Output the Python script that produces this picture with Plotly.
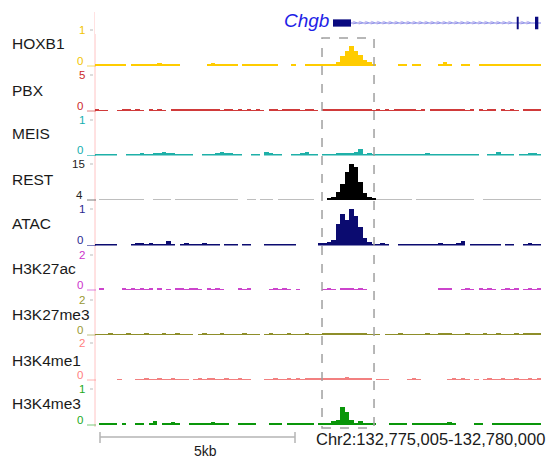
import numpy as np
import plotly.graph_objects as go

W, H = 546, 459
START = 132775000
END = 132780000
BIN = 50
CHROM_LABEL = "Chr2:132,775,005-132,780,000"
SCALE_LABEL = "5kb"

track_names = ["HOXB1", "PBX", "MEIS", "REST", "ATAC", "H3K27ac", "H3K27me3", "H3K4me1", "H3K4me3"]
track_min = [0, 0, 0, 4, 0, 0, 0, 0, 0]
track_max = [1, 5, 1, 15, 1, 2, 2, 2, 1]

hoxb1 = [0.03, 0.03, 0.06, 0.04, 0.03, 0.03, 0.04, 0, 0.05, 0.03,
         0.05, 0.04, 0.03, 0.06, 0.07, 0.04, 0.06, 0.04, 0.03, 0,
         0, 0, 0, 0, 0, 0.04, 0.07, 0.05, 0.04, 0.03,
         0.04, 0.03, 0, 0.05, 0.04, 0.03, 0.05, 0.03, 0.04, 0.05,
         0.03, 0, 0, 0, 0.06, 0, 0, 0.03, 0.04, 0.03,
         0.04, 0.04, 0.05, 0.06, 0.12, 0.28, 0.42, 0.55, 0.42, 0.3,
         0.16, 0.12, 0.05, 0, 0, 0, 0, 0, 0.03, 0.04,
         0, 0.03, 0.04, 0, 0, 0, 0, 0.05, 0.12, 0.06,
         0, 0, 0.04, 0.03, 0, 0, 0.03, 0.04, 0.05, 0.04,
         0.06, 0.04, 0.05, 0.03, 0.06, 0.04, 0.03, 0.05, 0.04, 0.05]

pbx = [0.15, 0.1, 0.1, 0, 0, 0.1, 0.15, 0.15, 0.1, 0.15,
       0.1, 0, 0.15, 0.1, 0.15, 0.1, 0, 0.15, 0.2, 0.15,
       0.2, 0.15, 0.15, 0.2, 0.15, 0.25, 0.2, 0.15, 0.1, 0.15,
       0.15, 0.1, 0.15, 0.1, 0.15, 0.1, 0.15, 0.1, 0, 0.15,
       0.15, 0.1, 0.15, 0.15, 0.2, 0.15, 0.1, 0.15, 0.15, 0.1,
       0, 0.15, 0.15, 0.2, 0.15, 0.2, 0.2, 0.25, 0.3, 0.2,
       0.15, 0.15, 0.1, 0.15, 0.1, 0.15, 0.1, 0.15, 0.15, 0.2,
       0.15, 0.15, 0.1, 0.15, 0, 0.15, 0.15, 0.2, 0.15, 0.15,
       0.2, 0.15, 0.15, 0.1, 0.15, 0, 0.15, 0.1, 0.15, 0.15,
       0, 0.15, 0.1, 0.15, 0.1, 0, 0.15, 0.15, 0.2, 0.15]

meis = [0.04, 0.03, 0.04, 0.03, 0.04, 0, 0, 0.03, 0.04, 0.05,
        0.06, 0.04, 0.03, 0.06, 0.08, 0.1, 0.07, 0.08, 0.05, 0.04,
        0.04, 0.03, 0, 0, 0.03, 0.04, 0.05, 0.08, 0.1, 0.07,
        0.06, 0.04, 0.03, 0, 0, 0.04, 0.03, 0, 0.1, 0.06,
        0.04, 0.03, 0, 0, 0.03, 0.04, 0.06, 0.09, 0.05, 0.03,
        0, 0.04, 0.03, 0.05, 0.06, 0.06, 0.07, 0.08, 0.1, 0.17,
        0.05, 0.06, 0.04, 0.04, 0.03, 0.04, 0.03, 0.04, 0.05, 0.03,
        0.03, 0.04, 0.03, 0.04, 0.06, 0.05, 0.04, 0.05, 0.04, 0.03,
        0.05, 0.04, 0.03, 0.04, 0.05, 0.03, 0, 0, 0.03, 0.04,
        0.1, 0.05, 0.03, 0.03, 0, 0.03, 0.04, 0.06, 0.07, 0.04]

rest = [4, 4.3, 4.3, 4.3, 4.3, 4.3, 4.3, 4.3, 4.3, 4.3,
        4.3, 4, 4, 4.3, 4.3, 4.3, 4.3, 4, 4.3, 4.3,
        4.3, 4.3, 4.3, 4.3, 4.3, 4.3, 4.3, 4.3, 4.3, 4.3,
        4.3, 4.3, 4, 4, 4.3, 4.3, 4, 4.3, 4.3, 4.3,
        4, 4.3, 4.3, 4.3, 4.3, 4.3, 4.3, 4.3, 4.3, 4,
        4, 4, 4.4, 4.8, 6.5, 9.0, 12.5, 15, 14.2, 9.5,
        6.0, 4.8, 4.4, 4.3, 4.3, 4.3, 4.3, 4.3, 4.3, 4.3,
        4.3, 4, 4.3, 4.3, 4.3, 4.3, 4.3, 4.3, 4.3, 4.3,
        4.3, 4.3, 4.3, 4.3, 4.3, 4, 4, 4.3, 4.3, 4.3,
        4.3, 4.3, 4.3, 4.3, 4.3, 4.3, 4.3, 4.3, 4.3, 4.3]

atac = [0.05, 0.04, 0.05, 0.04, 0.05, 0, 0, 0, 0.05, 0.06,
        0.06, 0.05, 0.06, 0.05, 0.04, 0.05, 0.11, 0.05, 0, 0.05,
        0.06, 0.05, 0.04, 0.05, 0.06, 0.05, 0.04, 0.05, 0, 0.05,
        0.04, 0.05, 0, 0.05, 0.04, 0, 0, 0, 0.05, 0.04,
        0.05, 0.05, 0.04, 0.05, 0.04, 0, 0, 0, 0, 0,
        0.06, 0.08, 0.1, 0.15, 0.6, 0.85, 0.7, 1.0, 0.8, 0.5,
        0.2, 0.1, 0.05, 0.05, 0.06, 0.05, 0, 0, 0.05, 0.04,
        0.05, 0.04, 0.05, 0.04, 0.05, 0.05, 0.04, 0.06, 0.05, 0.04,
        0.05, 0.06, 0.12, 0, 0.05, 0.04, 0.05, 0.04, 0.05, 0.05,
        0.04, 0, 0.05, 0.05, 0, 0, 0.05, 0.06, 0.05, 0.05]

h3k27ac = [0, 0.06, 0, 0, 0, 0, 0.06, 0.05, 0.06, 0.05,
           0.06, 0.05, 0.06, 0, 0.06, 0, 0.05, 0, 0.06, 0.06,
           0.05, 0.06, 0.06, 0.05, 0, 0.06, 0.05, 0.06, 0.05, 0,
           0, 0, 0.06, 0.05, 0.06, 0, 0, 0, 0, 0.05,
           0.06, 0.05, 0.06, 0.05, 0, 0.05, 0, 0, 0, 0,
           0, 0.05, 0.06, 0.05, 0, 0.06, 0.07, 0.06, 0.05, 0.06,
           0.05, 0, 0, 0, 0, 0, 0, 0, 0, 0,
           0, 0, 0, 0, 0, 0, 0, 0.06, 0.12, 0.06,
           0, 0, 0.05, 0.06, 0.05, 0, 0.06, 0.05, 0.06, 0.05,
           0, 0.05, 0.06, 0.05, 0.06, 0, 0.05, 0.06, 0.05, 0.06]

h3k27me3 = [0.05, 0.04, 0.05, 0.06, 0.05, 0.04, 0.05, 0.06, 0.05, 0.04,
            0.05, 0.06, 0.05, 0.04, 0.05, 0.06, 0.05, 0.04, 0.06, 0.05,
            0.04, 0.05, 0, 0.05, 0.06, 0.05, 0.04, 0.05, 0.06, 0.05,
            0.05, 0.04, 0.05, 0.06, 0.05, 0.04, 0.05, 0, 0.05, 0.06,
            0.05, 0.04, 0.05, 0.06, 0.05, 0.05, 0.04, 0.06, 0.05, 0.04,
            0.05, 0.06, 0.07, 0.06, 0.08, 0.07, 0.09, 0.07, 0.06, 0.07,
            0.06, 0.05, 0.04, 0.05, 0, 0.05, 0.04, 0.05, 0.06, 0.05,
            0.05, 0.04, 0.05, 0.05, 0.06, 0.05, 0.04, 0.07, 0.09, 0.06,
            0.05, 0.04, 0.05, 0.06, 0.05, 0.04, 0.05, 0.06, 0.05, 0.05,
            0.06, 0.05, 0.04, 0.05, 0.06, 0.05, 0.07, 0.06, 0.08, 0.07]

h3k4me1 = [0, 0, 0, 0, 0, 0.05, 0, 0, 0, 0.05,
           0.05, 0.06, 0.05, 0.05, 0.06, 0.05, 0.05, 0.06, 0.05, 0.05,
           0.05, 0, 0.05, 0.06, 0.05, 0.08, 0.06, 0.05, 0.05, 0.06,
           0.05, 0.05, 0.06, 0.05, 0.05, 0, 0, 0, 0.05, 0.05,
           0.06, 0.05, 0.05, 0.06, 0.05, 0.06, 0.05, 0.06, 0.07, 0.06,
           0.06, 0.07, 0.08, 0.07, 0.08, 0.1, 0.15, 0.09, 0.08, 0.1,
           0.11, 0.07, 0, 0.05, 0.05, 0.05, 0, 0, 0, 0,
           0.05, 0.06, 0.05, 0, 0, 0, 0, 0, 0, 0.05,
           0.06, 0.05, 0.06, 0.05, 0, 0.05, 0, 0.05, 0.06, 0.05,
           0.05, 0.06, 0.05, 0.05, 0.06, 0.05, 0.05, 0.06, 0.05, 0.06]

h3k4me3 = [0, 0.04, 0.05, 0.04, 0.03, 0, 0.03, 0, 0, 0.04,
           0.03, 0, 0.04, 0.1, 0, 0.05, 0.06, 0.08, 0.05, 0,
           0, 0.04, 0.03, 0.04, 0.03, 0.05, 0.07, 0.05, 0.04, 0.03,
           0, 0, 0.04, 0.03, 0.04, 0.03, 0, 0, 0, 0.03,
           0.04, 0.03, 0, 0.04, 0.05, 0.04, 0.03, 0.04, 0.03, 0,
           0.03, 0.03, 0.04, 0.1, 0.14, 0.5, 0.35, 0.14, 0.05, 0.1,
           0.06, 0.04, 0.03, 0, 0, 0, 0.03, 0.04, 0.03, 0.03,
           0, 0.04, 0.03, 0.04, 0.05, 0.04, 0.03, 0.05, 0.06, 0.09,
           0.04, 0, 0, 0, 0, 0.03, 0.04, 0, 0, 0.04,
           0.03, 0.05, 0.04, 0.03, 0.05, 0.06, 0.04, 0.05, 0.04, 0.03]

track_values = [hoxb1, pbx, meis, rest, atac, h3k27ac, h3k27me3, h3k4me1, h3k4me3]

gene_name = "Chgb"
gene_start = 132777668
gene_end = 132780000
exon_starts = [132777668, 132779728, 132779933]
exon_ends = [132777870, 132779750, 132779970]
highlight = [132777545, 132778128]

# ---- styling ----
data_colors = ["#FFCC00", "#D03A3A", "#1EB0A8", "#000000", "#0B0B70",
               "#CC44CC", "#8E8E2A", "#F28080", "#0A960A"]
label_colors = ["#F2C400", "#CC2A2A", "#14AEAE", "#222222", "#2A2A90",
                "#CC33CC", "#999933", "#FF7F7F", "#22AA22"]
REST_NOISE_COLOR = "#BEBEBE"

track_top_px = [30, 75, 120, 164, 209, 255, 300, 343, 389]
track_base_px = [66, 111, 155.5, 200, 245.5, 290, 335, 380, 425]
label_y_px = [44, 90.5, 133, 179, 223, 268, 314, 360, 403]
X0_PX, X1_PX = 95, 541

def px(p):
    return p / W

def py(p):
    return 1 - p / H

FONT = "Liberation Sans, Arial, sans-serif"

fig = go.Figure()
centers = [START + BIN * (i + 0.5) for i in range(len(hoxb1))]

layout = dict(
    width=W, height=H, autosize=False,
    margin=dict(l=0, r=0, t=0, b=0),
    paper_bgcolor="white", plot_bgcolor="white",
    barmode="overlay", bargap=0,
    showlegend=False,
    font=dict(family=FONT),
    xaxis=dict(domain=[px(X0_PX), px(X1_PX)], range=[START, END], visible=False,
               anchor="y", fixedrange=True),
)

annotations = []
shapes = []

for i, name in enumerate(track_names):
    lo, hi = track_min[i], track_max[i]
    vals = track_values[i]
    yname = "y" if i == 0 else f"y{i+1}"
    ykey = "yaxis" if i == 0 else f"yaxis{i+1}"
    if name == "REST":
        colors = [REST_NOISE_COLOR if v <= lo + 0.3 else data_colors[i] for v in vals]
    else:
        colors = data_colors[i]
    fig.add_trace(go.Bar(
        x=centers, y=[v - lo for v in vals], base=lo, width=BIN,
        marker=dict(color=colors, line=dict(width=0)),
        xaxis="x", yaxis=yname, hoverinfo="skip", showlegend=False))
    layout[ykey] = dict(domain=[py(track_base_px[i]), py(track_top_px[i])],
                        range=[lo, hi], anchor="x", visible=False, fixedrange=True)
    annotations.append(dict(text=name, x=px(10), y=py(label_y_px[i]), xref="paper", yref="paper",
                            xanchor="left", yanchor="middle", showarrow=False,
                            font=dict(size=15.5, color="#1a1a1a", family=FONT)))
    annotations.append(dict(text=str(hi), x=px(87), y=py(track_top_px[i]), xref="paper", yref="paper",
                            xanchor="right", yanchor="middle", showarrow=False,
                            font=dict(size=11.5, color=label_colors[i], family=FONT)))
    annotations.append(dict(text=str(lo), x=px(85), y=py(track_base_px[i] - 5.5), xref="paper", yref="paper",
                            xanchor="right", yanchor="middle", showarrow=False,
                            font=dict(size=11.5, color=label_colors[i], family=FONT)))
    shapes.append(dict(type="line", xref="paper", yref="paper",
                       x0=px(90), x1=px(93), y0=py(track_top_px[i]), y1=py(track_top_px[i]),
                       line=dict(color="#BBBBBB", width=1)))
    shapes.append(dict(type="line", xref="paper", yref="paper",
                       x0=px(87), x1=px(96), y0=py(track_base_px[i]), y1=py(track_base_px[i]),
                       line=dict(color=label_colors[i], width=1), opacity=0.6))

shapes.append(dict(type="line", xref="paper", yref="paper", x0=px(95), x1=px(95),
                   y0=py(12), y1=py(427), line=dict(color="#FFC4C4", width=1), layer="below"))

# gene track
layout["yaxis10"] = dict(domain=[py(34), py(12)], range=[-1, 1], anchor="x", visible=False, fixedrange=True)
shapes.append(dict(type="line", xref="x", yref="y10", x0=exon_ends[0], x1=gene_end, y0=0, y1=0,
                   line=dict(color="#7C7CE0", width=1)))
exon_half = [0.33, 0.57, 0.57]
for s, e, hh in zip(exon_starts, exon_ends, exon_half):
    shapes.append(dict(type="rect", xref="x", yref="y10", x0=s, x1=e, y0=-hh, y1=hh,
                       fillcolor="#0A0A80", line=dict(width=0)))
chev = []
for a, b in zip(exon_ends[:-1], exon_starts[1:]):
    chev.extend(np.arange(a + 40, b - 20, 67).tolist())
fig.add_trace(go.Scatter(x=chev, y=[0] * len(chev), mode="text", text=[">"] * len(chev),
                         textfont=dict(size=8, color="#8A8AEE", family=FONT),
                         xaxis="x", yaxis="y10", hoverinfo="skip", showlegend=False))
annotations.append(dict(text=f"<i>{gene_name}</i>", x=px(331), y=py(21), xref="paper", yref="paper",
                        xanchor="right", yanchor="middle", showarrow=False,
                        font=dict(size=19, color="#1E1EE6", family=FONT)))

shapes.append(dict(type="rect", xref="x", yref="paper", x0=highlight[0], x1=highlight[1],
                   y0=py(428), y1=py(38), line=dict(color="#A0A0A0", width=1.5, dash="dash"),
                   fillcolor="rgba(0,0,0,0)"))

shapes.append(dict(type="line", xref="paper", yref="paper", x0=px(100), x1=px(295),
                   y0=py(437), y1=py(437), line=dict(color="#B4B4B4", width=1.5)))
for xx in (100, 295):
    shapes.append(dict(type="line", xref="paper", yref="paper", x0=px(xx), x1=px(xx),
                       y0=py(432), y1=py(443), line=dict(color="#B4B4B4", width=1.5)))
annotations.append(dict(text=SCALE_LABEL, x=px(205), y=py(451), xref="paper", yref="paper",
                        xanchor="center", yanchor="middle", showarrow=False,
                        font=dict(size=14, color="#1a1a1a", family=FONT)))
annotations.append(dict(text=CHROM_LABEL, x=px(314), y=py(439), xref="paper", yref="paper",
                        xanchor="left", yanchor="middle", showarrow=False,
                        font=dict(size=16.5, color="#1a1a1a", family=FONT)))

layout["annotations"] = annotations
layout["shapes"] = shapes
fig.update_layout(**layout)
fig.write_html("out.html")
